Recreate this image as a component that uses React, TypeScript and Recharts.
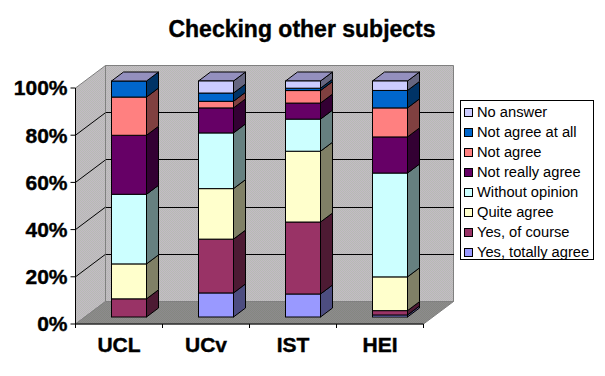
import React from "react";
import { BarChart, Bar, XAxis, YAxis, CartesianGrid, Legend } from "recharts";

const categories = ["UCL", "UCv", "IST", "HEI"];
const seriesNames = ["Yes, totally agree", "Yes, of course", "Quite agree", "Without opinion", "Not really agree", "Not agree", "Not agree at all", "No answer"];
const yesTotally = [0, 10.2, 9.75, 0.85];
const yesOfCourse = [7.7, 22.8, 30.5, 1.85];
const quiteAgree = [14.8, 21.4, 30, 14.3];
const withoutOpinion = [29.5, 23.6, 13.6, 44];
const notReally = [25, 10.6, 6.8, 15.3];
const notAgree = [16.2, 2.8, 5.3, 12.3];
const notAtAll = [6.8, 3.5, 1, 7.4];
const noAnswer = [0, 5.1, 3.05, 4];
const seriesValues = [yesTotally, yesOfCourse, quiteAgree, withoutOpinion, notReally, notAgree, notAtAll, noAnswer];
const colors = ["#9999FF", "#993366", "#FFFFCC", "#CCFFFF", "#660066", "#FF8080", "#0066CC", "#CCCCFF"];
const sideColors = ["#4D4D80", "#4D1A33", "#808066", "#668080", "#330033", "#804040", "#003366", "#666680"];
const topColor = "#9490BE";
const yTicks = [0, 20, 40, 60, 80, 100];

const rows = categories.map((c, i) => {
  const r: Record<string, any> = { name: c };
  seriesNames.forEach((s, k) => (r[s] = seriesValues[k][i]));
  return r;
});

const L = 75.5, T = 88, R = 423.5, B = 324;
const WX = 30, WY = 22.5;
const SX = 9, SY = 7, DX = 12, DY = 9;
const font = "'Liberation Sans', Arial, sans-serif";

const pts = (a: number[][]) => a.map((p) => p.join(",")).join(" ");

const Walls = () => (
  <svg width={605} height={376} style={{ position: "absolute", left: 0, top: 0 }}>
    <defs>
      <pattern id="wallDither" width="2" height="2" patternUnits="userSpaceOnUse">
        <rect width="2" height="2" fill="#C4BCC4" />
        <rect width="1" height="1" fill="#B6BAB4" />
        <rect x="1" y="1" width="1" height="1" fill="#B6B8B6" />
      </pattern>
      <pattern id="floorDither" width="2" height="2" patternUnits="userSpaceOnUse">
        <rect width="2" height="2" fill="#8E8A8E" />
        <rect width="1" height="1" fill="#848880" />
        <rect x="1" y="1" width="1" height="1" fill="#848880" />
      </pattern>
    </defs>
    <polygon points={pts([[L, T], [L + WX, T - WY], [L + WX, B - WY], [L, B]])} fill="url(#wallDither)" stroke="#808080" />
    <polygon points={pts([[L + WX, T - WY], [R + WX, T - WY], [R + WX, B - WY], [L + WX, B - WY]])} fill="url(#wallDither)" stroke="#808080" />
    <polygon points={pts([[L, B], [L + WX, B - WY], [R + WX, B - WY], [R, B]])} fill="url(#floorDither)" stroke="#808080" />
  </svg>
);

const GridLine = (p: any) => {
  const { x1, x2, y1 } = p;
  if (Math.abs(y1 - T) < 1 || Math.abs(y1 - B) < 1) return <g />;
  return (
    <g stroke="#000" strokeWidth={1} fill="none">
      <line x1={x1} y1={y1} x2={x1 + WX} y2={y1 - WY} />
      <line x1={x1 + WX} y1={y1 - WY} x2={x2 + WX} y2={y1 - WY} shapeRendering="crispEdges" />
    </g>
  );
};

const makeShape = (k: number) => (p: any) => {
  const x = Math.round(p.x + SX) + 0.5;
  const w = Math.round(p.width);
  const y = p.y - SY;
  const h = p.height;
  const r = x + w;
  return (
    <g stroke="#000" strokeWidth={1}>
      {h > 0 && <polygon points={pts([[r, y], [r + DX, y - DY], [r + DX, y + h - DY], [r, y + h]])} fill={sideColors[k]} />}
      {k === seriesNames.length - 1 && <polygon points={pts([[x, y], [x + DX, y - DY], [r + DX, y - DY], [r, y]])} fill={topColor} />}
      {h > 0 && <rect x={x} y={y} width={w} height={h} fill={colors[k]} />}
    </g>
  );
};

const XTick = (p: any) => {
  const half = (R - L) / categories.length / 2;
  const { x, payload, index } = p;
  return (
    <g>
      <line x1={x - half} y1={B} x2={x - half} y2={B + 4} stroke="#000" />
      {index === categories.length - 1 && <line x1={x + half} y1={B} x2={x + half} y2={B + 4} stroke="#000" />}
      <text x={x} y={B + 28} textAnchor="middle" fontFamily={font} fontWeight="bold" fontSize={21} fill="#000" stroke="#000" strokeWidth={0.4}>
        {payload.value}
      </text>
    </g>
  );
};

const LegendBox = () => (
  <div style={{ boxSizing: "border-box", width: 134, height: 160, border: "1px solid #000", background: "#fff", fontFamily: font, fontSize: 14.7, color: "#000", paddingTop: 1 }}>
    {[...seriesNames].reverse().map((s, i) => (
      <div key={s} style={{ height: 20, display: "flex", alignItems: "center", whiteSpace: "nowrap" }}>
        <span style={{ boxSizing: "border-box", display: "inline-block", width: 9, height: 9, marginLeft: 3, marginRight: 4, border: "1px solid #000", background: colors[seriesNames.length - 1 - i] }} />
        {s}
      </div>
    ))}
  </div>
);

export default function App() {
  return (
    <div style={{ position: "absolute", left: 0, top: 0, width: 605, height: 376, background: "#fff" }}>
      <Walls />
      <BarChart width={605} height={376} data={rows} barSize={35} margin={{ top: T, left: 0, right: 605 - R, bottom: 0 }}>
        <text x={302} y={37} textAnchor="middle" fontFamily={font} fontWeight="bold" fontSize={23} fill="#000" stroke="#000" strokeWidth={0.4}>
          Checking other subjects
        </text>
        <CartesianGrid vertical={false} horizontal={GridLine as any} stroke="#000" />
        <XAxis dataKey="name" height={376 - B} tickLine={false} axisLine={{ stroke: "#000" }} tick={XTick as any} interval={0} />
        <YAxis
          width={L}
          domain={[0, 100]}
          ticks={yTicks}
          tickFormatter={(v: number) => `${v}%`}
          tickSize={5}
          tickMargin={3}
          axisLine={{ stroke: "#000" }}
          tickLine={{ stroke: "#000" }}
          tick={{ fontFamily: font, fontWeight: "bold", fontSize: 21, fill: "#000", stroke: "#000", strokeWidth: 0.4 }}
        />
        {seriesNames.map((s, k) => (
          <Bar key={s} dataKey={s} stackId="a" fill={colors[k]} isAnimationActive={false} shape={makeShape(k) as any} />
        ))}
        <Legend layout="vertical" align="center" verticalAlign="middle" content={LegendBox as any} wrapperStyle={{ left: 460, top: 100, width: 134, height: 160 }} />
      </BarChart>
    </div>
  );
}
